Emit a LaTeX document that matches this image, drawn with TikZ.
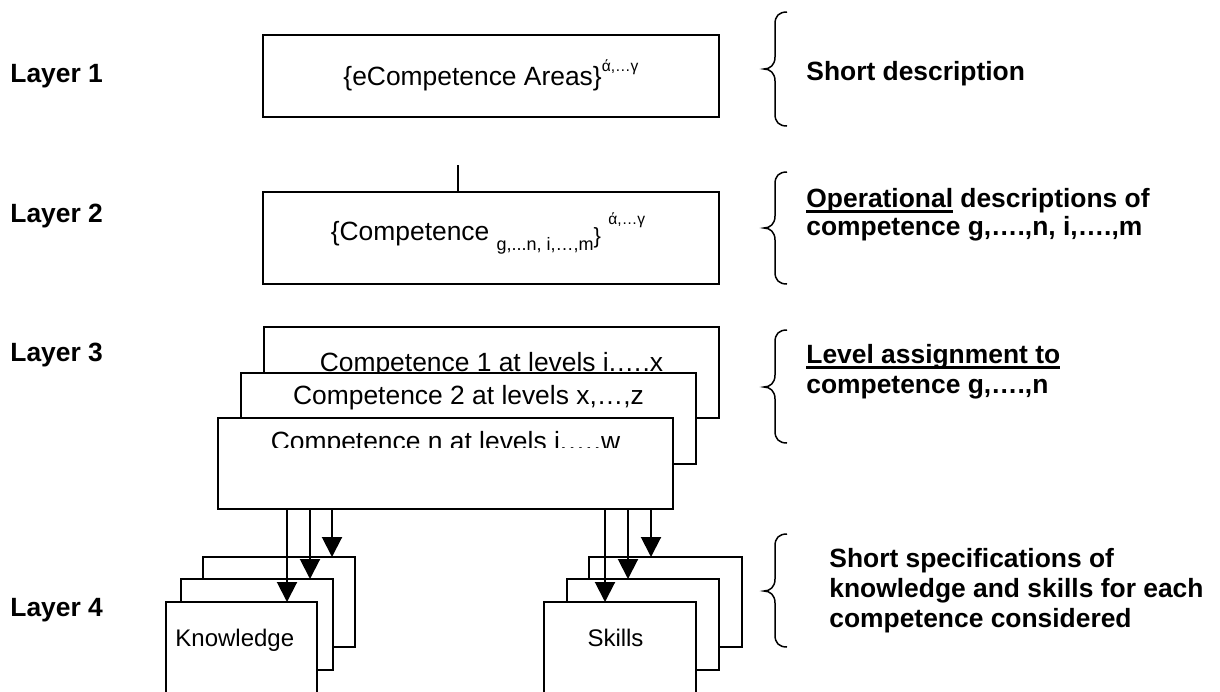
\documentclass[tikz,border=0pt]{standalone}
\usepackage{fontspec}
\setmainfont{Liberation Sans}
\usetikzlibrary{arrows.meta}
\newcommand\mainsz{\fontsize{13.2pt}{15pt}\selectfont}
\newcommand\supsz{\fontsize{7.8pt}{9pt}\selectfont}
\newcommand\subsz{\fontsize{9pt}{10pt}\selectfont}
\newcommand\knsz{\fontsize{12pt}{14pt}\selectfont}
\newcommand\myul[1]{\setbox0\hbox{#1}\rlap{\rule[-2.8pt]{\wd0}{1.4pt}}\box0\relax}
\newcommand\mybrace[3]{\draw[brc] (787,#1) .. controls (779,#1) and (775,#1+4) .. (775,#1+12) -- (775,#2-12) .. controls (775,#2-4) and (770,#2) .. (764,#2) .. controls (770,#2) and (775,#2+4) .. (775,#2+12) -- (775,#3-12) .. controls (775,#3-4) and (779,#3) .. (787,#3);}
\tikzset{
  box/.style={draw, line width=1pt, fill=white, inner sep=0pt, outer sep=0pt, anchor=north west},
  arr/.style={line width=1pt, -{Triangle[width=10pt,length=10pt]}},
  lab/.style={font=\mainsz\bfseries, inner sep=0pt, anchor=base west},
  txt/.style={font=\mainsz, inner sep=0pt, anchor=base},
  brc/.style={line width=0.75pt},
}
\begin{document}
\begin{tikzpicture}[x=0.5pt,y=-0.5pt]
\useasboundingbox (0,0) rectangle (1220,691);
\clip (0,0) rectangle (1220,691);
% layer labels
\node[lab] (lay1) at (10,82.5) {Layer 1};
\node[lab] (lay2) at (10,222.5) {Layer 2};
\node[lab] (lay3) at (10,361.5) {Layer 3};
\node[lab] (lay4) at (10,616.5) {Layer 4};
% layer 1
\node[box, minimum width=228pt, minimum height=41pt] (l1) at (263,35) {};
\node[txt] (l1t) at (491,85) {\{eCompetence Areas\}\raisebox{7pt}{\supsz ά,…γ}};
% layer 2
\node[box, minimum width=228pt, minimum height=46pt] (l2) at (263,192) {};
\coordinate (l2top) at (458,165);
\draw[line width=1pt] (l2top) -- (l2top |- l2.north);
\node[txt] (l2t) at (488,240) {\{Competence \raisebox{-5pt}{\subsz g,...n, i,…,m}{\fontsize{11pt}{12pt}\selectfont\raisebox{-1.5pt}{\}}} \raisebox{8pt}{\supsz ά,…γ}};
% layer 3
\node[box, minimum width=227.5pt, minimum height=45.5pt] (l3a) at (264,327) {};
\node[txt] (l3at) at (491.5,371.7) {Competence 1 at levels i.….x};
\node[box, minimum width=227.5pt, minimum height=45.5pt] (l3b) at (241,373) {};
\node[txt] (l3bt) at (468.5,404) {Competence 2 at levels x,…,z};
\node[box, minimum width=227.5pt, minimum height=45.5pt] (l3c) at (218,418) {};
\begin{scope}
\clip (218,418) rectangle (673,447);
\node[txt] (l3ct) at (445.5,450.7) {Competence n at levels i.….w};
\end{scope}
% layer 4 knowledge
\node[box, minimum width=76pt, minimum height=45pt] (kback) at (203,557) {};
\node[box, minimum width=76pt, minimum height=45.5pt] (kmid) at (181,579) {};
\node[box, minimum width=75.5pt, minimum height=60pt] (kfront) at (166,602) {};
\node[font=\knsz, inner sep=0pt, anchor=base west] (kt) at (175,646) {Knowledge};
% layer 4 skills
\node[box, minimum width=76.5pt, minimum height=45pt] (sback) at (589,557) {};
\node[box, minimum width=76pt, minimum height=45.5pt] (smid) at (567,579) {};
\node[box, minimum width=76pt, minimum height=60pt] (sfront) at (544,602) {};
\node[font=\knsz, inner sep=0pt, anchor=base] (st) at (615.5,646) {Skills};
% arrows
\coordinate (xk1) at (287,0);
\coordinate (xk2) at (310,0);
\coordinate (xk3) at (332,0);
\coordinate (xs1) at (605,0);
\coordinate (xs2) at (628,0);
\coordinate (xs3) at (651,0);
\draw[arr] (xk1 |- l3c.south) -- (xk1 |- kfront.north);
\draw[arr] (xk2 |- l3c.south) -- (xk2 |- kmid.north);
\draw[arr] (xk3 |- l3c.south) -- (xk3 |- kback.north);
\draw[arr] (xs1 |- l3c.south) -- (xs1 |- sfront.north);
\draw[arr] (xs2 |- l3c.south) -- (xs2 |- smid.north);
\draw[arr] (xs3 |- l3c.south) -- (xs3 |- sback.north);
% braces
\mybrace{12}{69}{126}
\mybrace{172}{228}{284}
\mybrace{330}{387}{443}
\mybrace{534}{591}{647}
% right descriptions
\node[lab] (r1) at (806,80) {Short description};
\node[lab] (r2a) at (806,207) {\myul{Operational} descriptions of};
\node[lab] (r2b) at (806,235) {competence g,….,n, i,….,m};
\node[lab] (r3a) at (806,363) {\myul{Level assignment to}};
\node[lab] (r3b) at (806,393) {competence g,….,n};
\node[lab] (r4a) at (829,567) {Short specifications of};
\node[lab] (r4b) at (829,597) {knowledge and skills for each};
\node[lab] (r4c) at (829,627) {competence considered};
\end{tikzpicture}
\end{document}
